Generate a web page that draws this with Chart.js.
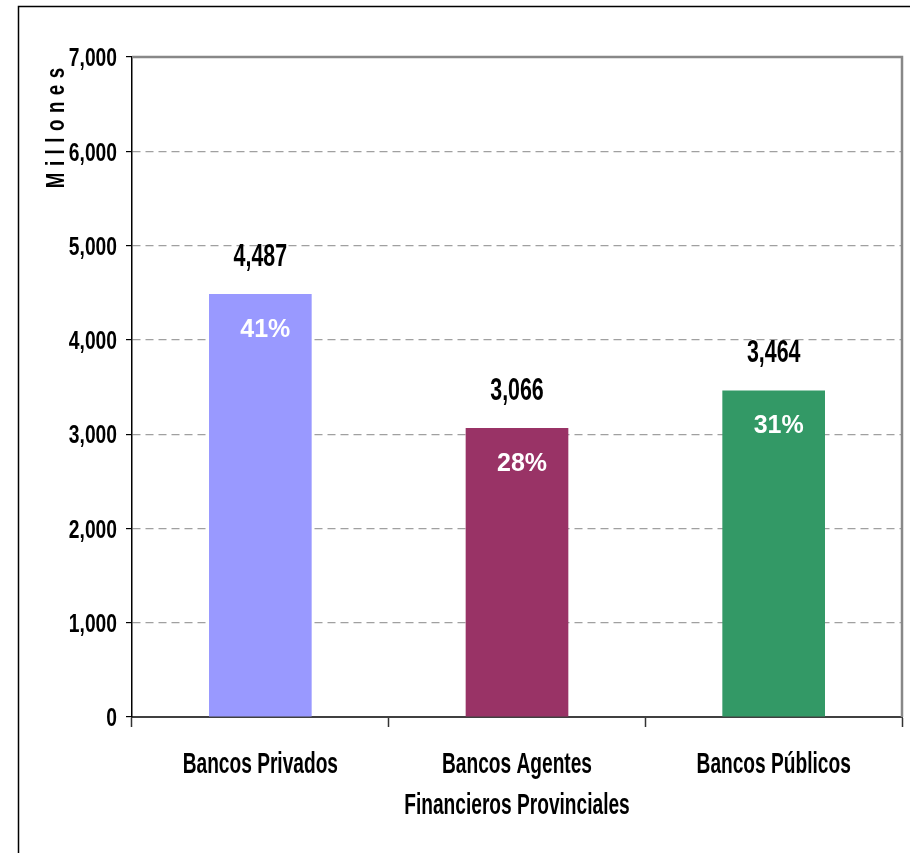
<!DOCTYPE html>
<html>
<head>
<meta charset="utf-8">
<script src="https://cdn.jsdelivr.net/npm/chart.js@4/dist/chart.umd.min.js"></script>
<style>
  html, body { margin: 0; padding: 0; background: #ffffff; }
  #wrap { width: 910px; height: 853px; position: relative; }
</style>
</head>
<body>
<div id="wrap"><canvas id="c" width="910" height="853"></canvas></div>
<script>
const categories = [["Bancos Privados"], ["Bancos Agentes", "Financieros Provinciales"], ["Bancos Públicos"]];
const values = [4487, 3066, 3464];
const shares = ["41%", "28%", "31%"];
const barColors = ["#9999FF", "#993366", "#339966"];
const yTicks = [0, 1000, 2000, 3000, 4000, 5000, 6000, 7000];
const axisTitle = "Millones";

const SANS = "'Liberation Sans', Arial, sans-serif";
const fmt = v => v.toLocaleString('en-US');

// draw horizontally condensed text (Arial Narrow look)
function narrowText(ctx, text, x, y, size, sx, align) {
  ctx.save();
  ctx.font = "bold " + size + "px " + SANS;
  ctx.textBaseline = 'alphabetic';
  ctx.textAlign = 'left';
  const w = ctx.measureText(text).width * sx;
  let left = x;
  if (align === 'center') left = x - w / 2;
  else if (align === 'right') left = x - w;
  ctx.translate(left, y);
  ctx.scale(sx, 1);
  ctx.fillText(text, 0, 0);
  ctx.restore();
}

const decor = {
  id: 'decor',
  beforeDraw(chart) {
    const ctx = chart.ctx;
    ctx.save();
    ctx.fillStyle = '#ffffff';
    ctx.fillRect(0, 0, chart.width, chart.height);
    ctx.restore();
  },
  afterDraw(chart) {
    const ctx = chart.ctx;
    const a = chart.chartArea;
    const xs = chart.scales.x, ys = chart.scales.y;
    ctx.save();
    // plot frame top and right (gray)
    ctx.strokeStyle = '#888888';
    ctx.lineWidth = 2.5;
    ctx.beginPath();
    ctx.moveTo(a.left, a.top);
    ctx.lineTo(a.right, a.top);
    ctx.lineTo(a.right, a.bottom);
    ctx.stroke();
    // outer border (left and top)
    ctx.strokeStyle = '#000000';
    ctx.lineWidth = 1.5;
    ctx.beginPath();
    ctx.moveTo(18.5, chart.height);
    ctx.lineTo(18.5, 6.5);
    ctx.lineTo(chart.width, 6.5);
    ctx.stroke();

    ctx.fillStyle = '#000000';
    // y tick labels
    ys.ticks.forEach(t => {
      const py = ys.getPixelForValue(t.value);
      narrowText(ctx, fmt(t.value), 117, py + 9.3, 26, 0.74, 'right');
    });
    // x tick labels
    categories.forEach((lines, i) => {
      const px = xs.getPixelForTick(i);
      lines.forEach((ln, j) => {
        narrowText(ctx, ln, px, 773 + j * 41, 29, 0.66, 'center');
      });
    });

    // value labels and shares
    const meta = chart.getDatasetMeta(0);
    meta.data.forEach((bar, i) => {
      ctx.fillStyle = '#000000';
      narrowText(ctx, fmt(values[i]), bar.x, bar.y - 28, 31, 0.69, 'center');
      ctx.fillStyle = '#ffffff';
      ctx.font = "bold 25px " + SANS;
      ctx.textAlign = 'center';
      ctx.textBaseline = 'alphabetic';
      ctx.fillText(shares[i], bar.x + 5, bar.y + 43);
    });

    // rotated axis title, condensed letters with wide spacing
    ctx.save();
    ctx.translate(64, 128);
    ctx.rotate(-Math.PI / 2);
    ctx.fillStyle = '#000000';
    ctx.font = "bold 26px " + SANS;
    ctx.textAlign = 'left';
    ctx.textBaseline = 'alphabetic';
    const sq = 0.72, sp = 6.5;
    const chars = axisTitle.split('');
    let total = 0;
    chars.forEach((c, k) => { total += ctx.measureText(c).width * sq + (k < chars.length - 1 ? sp : 0); });
    let cx = -total / 2;
    chars.forEach(c => {
      ctx.save();
      ctx.translate(cx, 0);
      ctx.scale(sq, 1);
      ctx.fillText(c, 0, 0);
      ctx.restore();
      cx += ctx.measureText(c).width * sq + sp;
    });
    ctx.restore();
    ctx.restore();
  }
};

new Chart(document.getElementById('c'), {
  type: 'bar',
  data: {
    labels: categories,
    datasets: [{
      data: values,
      backgroundColor: barColors,
      borderWidth: 0,
      categoryPercentage: 1.0,
      barPercentage: 0.4
    }]
  },
  options: {
    responsive: false,
    animation: false,
    devicePixelRatio: 1,
    layout: { padding: { left: 0, top: 57, right: 8, bottom: 0 } },
    plugins: { legend: { display: false }, tooltip: { enabled: false } },
    scales: {
      x: {
        grid: {
          display: true,
          offset: true,
          drawOnChartArea: false,
          drawTicks: true,
          tickLength: 10,
          tickColor: '#333333',
          tickWidth: 1.5
        },
        border: { display: true, color: '#404040', width: 2 },
        ticks: { display: false },
        afterFit(scale) { scale.height = 136; }
      },
      y: {
        min: 0,
        max: 7000,
        afterBuildTicks(scale) { scale.ticks = yTicks.map(v => ({ value: v })); },
        grid: {
          color: ctx => (ctx.tick && (ctx.tick.value === 0 || ctx.tick.value === 7000)) ? 'rgba(0,0,0,0)' : '#a0a0a0',
          lineWidth: 1.2,
          drawTicks: true,
          tickLength: 6,
          tickColor: '#000000',
          tickWidth: 1.2
        },
        border: { display: true, color: '#000000', width: 1.5, dash: [8, 5] },
        ticks: { display: false },
        afterFit(scale) { scale.width = 132; }
      }
    }
  },
  plugins: [decor]
});
</script>
</body>
</html>
